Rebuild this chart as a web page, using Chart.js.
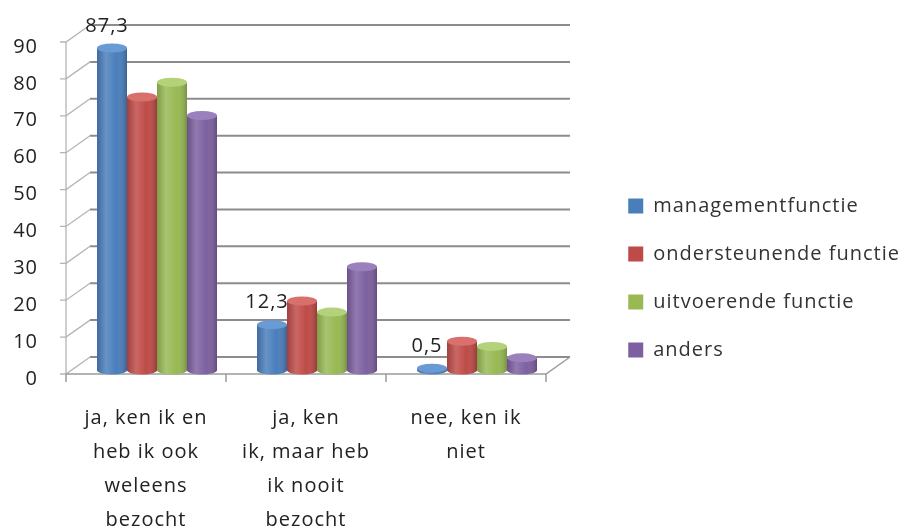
<!DOCTYPE html>
<html>
<head>
<meta charset="utf-8">
<script src="https://cdn.jsdelivr.net/npm/chart.js@4.4.0/dist/chart.umd.min.js"></script>
<style>
  html, body { margin: 0; padding: 0; background: #fff; }
  #c { display: block; }
</style>
</head>
<body>
<canvas id="c" width="910" height="528"></canvas>
<script>
// data
const categories = [
  ["ja, ken ik en", "heb ik ook", "weleens", "bezocht"],
  ["ja, ken", "ik, maar heb", "ik nooit", "bezocht"],
  ["nee, ken ik", "niet"]
];
const seriesNames = ["managementfunctie", "ondersteunende functie", "uitvoerende functie", "anders"];
const managementfunctie = [87.3, 12.3, 0.5];
const ondersteunendeFunctie = [74.0, 18.7, 7.8];
const uitvoerendeFunctie = [78.0, 15.7, 6.4];
const anders = [69.0, 28.0, 3.3];
const yTicks = [0, 10, 20, 30, 40, 50, 60, 70, 80, 90];
const colors = ["#4A7EBB", "#BE4B48", "#98B954", "#7D60A0"];
const tops = ["#6A9AD4", "#D8706C", "#B3D27A", "#9A80BC"];

// 3D-ish offsets: front frame and back wall relative to the bar plane
const FRONT = { dx: -11, dy: 4 };
const BACK = { dx: 13, dy: -13 };

Chart.defaults.font.family = "'Open Sans', sans-serif";
Chart.defaults.font.size = 20;
Chart.defaults.color = "#222";

function noPad(s) {
  s.paddingTop = 0; s.paddingBottom = 0; s.paddingLeft = 0; s.paddingRight = 0;
}

const frame = {
  id: "frame",
  beforeLayout(chart) { chart.ctx.letterSpacing = "1px"; },
  // let the category labels run to the bottom edge without clipping
  afterLayout(chart) { chart.scales.x.bottom = chart.height; },
  beforeDraw(chart) { chart.ctx.letterSpacing = "1px"; },
  beforeDatasetsDraw(chart) {
    const { ctx, chartArea: ca } = chart;
    const ys = chart.scales.y, xs = chart.scales.x;
    const fx = ca.left + FRONT.dx, fr = ca.right + FRONT.dx;
    const bx = ca.left + BACK.dx, br = ca.right + BACK.dx;
    ctx.save();
    // back wall gridlines
    ctx.strokeStyle = "#8c8c8c";
    ctx.lineWidth = 2;
    yTicks.forEach(v => {
      const y = ys.getPixelForValue(v) + BACK.dy;
      ctx.beginPath(); ctx.moveTo(bx, y); ctx.lineTo(br, y); ctx.stroke();
    });
    // side wall diagonals + front axis tick marks
    ctx.strokeStyle = "#b4b4b4";
    ctx.lineWidth = 1.3;
    yTicks.forEach(v => {
      const y = ys.getPixelForValue(v);
      ctx.beginPath();
      ctx.moveTo(fx - 6, y + FRONT.dy);
      ctx.lineTo(fx, y + FRONT.dy);
      ctx.lineTo(bx, y + BACK.dy);
      ctx.stroke();
    });
    const y0 = ys.getPixelForValue(0), yMax = ys.getPixelForValue(90);
    ctx.beginPath();
    ctx.moveTo(fx, yMax + FRONT.dy); ctx.lineTo(fx, y0 + FRONT.dy);
    ctx.stroke();
    // floor front edge and right edge
    ctx.strokeStyle = "#9a9a9a";
    ctx.lineWidth = 1.5;
    ctx.beginPath();
    ctx.moveTo(fx, y0 + FRONT.dy); ctx.lineTo(fr, y0 + FRONT.dy); ctx.lineTo(br, y0 + BACK.dy);
    ctx.stroke();
    // category ticks
    const n = categories.length;
    const step = (ca.right - ca.left) / n;
    for (let i = 0; i <= n; i++) {
      const x = (i < n ? xs.getPixelForValue(i) - step / 2 : xs.getPixelForValue(n - 1) + step / 2) + FRONT.dx;
      ctx.beginPath(); ctx.moveTo(x, y0 + FRONT.dy); ctx.lineTo(x, y0 + FRONT.dy + 8); ctx.stroke();
    }
    ctx.restore();
  },
  afterDatasetsDraw(chart) {
    const ctx = chart.ctx;
    ctx.save();
    chart.data.datasets.forEach((ds, di) => {
      const meta = chart.getDatasetMeta(di);
      meta.data.forEach(bar => {
        const { x, y, base, width } = bar.getProps(["x", "y", "base", "width"], true);
        const l = x - width / 2, r = x + width / 2;
        const ry = 4.5;
        // bottom rounding
        ctx.fillStyle = colors[di];
        ctx.beginPath(); ctx.ellipse(x, base, width / 2, ry, 0, 0, Math.PI); ctx.fill();
        // cylinder shading
        const g = ctx.createLinearGradient(l, 0, r, 0);
        g.addColorStop(0, "rgba(0,0,0,0.15)");
        g.addColorStop(0.3, "rgba(255,255,255,0.16)");
        g.addColorStop(0.65, "rgba(255,255,255,0)");
        g.addColorStop(1, "rgba(0,0,0,0.22)");
        ctx.fillStyle = g;
        ctx.beginPath();
        ctx.moveTo(l, y); ctx.lineTo(l, base);
        ctx.ellipse(x, base, width / 2, ry, 0, Math.PI, 0, true);
        ctx.lineTo(r, y); ctx.closePath();
        ctx.fill();
        // top cap
        ctx.fillStyle = tops[di];
        ctx.beginPath(); ctx.ellipse(x, y, width / 2, ry, 0, 0, Math.PI * 2); ctx.fill();
      });
    });
    // data labels for first series
    const meta0 = chart.getDatasetMeta(0);
    ctx.fillStyle = "#222";
    ctx.font = "20px 'Open Sans', sans-serif";
    ctx.textAlign = "center";
    ctx.textBaseline = "middle";
    meta0.data.forEach((bar, i) => {
      const txt = String(managementfunctie[i]).replace(".", ",");
      ctx.fillText(txt, bar.x - 5, bar.y - 22);
    });
    ctx.restore();
  }
};

new Chart(document.getElementById("c"), {
  type: "bar",
  data: {
    labels: categories,
    datasets: [
      { label: seriesNames[0], data: managementfunctie, backgroundColor: colors[0] },
      { label: seriesNames[1], data: ondersteunendeFunctie, backgroundColor: colors[1] },
      { label: seriesNames[2], data: uitvoerendeFunctie, backgroundColor: colors[2] },
      { label: seriesNames[3], data: anders, backgroundColor: colors[3] }
    ]
  },
  options: {
    responsive: false,
    animation: false,
    layout: { padding: { top: 38, left: 0, right: 0, bottom: 10 } },
    datasets: { bar: { categoryPercentage: 0.75, barPercentage: 1, borderWidth: 0 } },
    plugins: {
      legend: {
        position: "right",
        align: "center",
        maxWidth: 400,
        labels: { boxWidth: 15, boxHeight: 15, padding: 28, color: "#333" }
      },
      tooltip: { enabled: false }
    },
    scales: {
      x: {
        grid: { display: false, drawTicks: false },
        border: { display: false },
        ticks: { padding: 31, labelOffset: -11, maxRotation: 0, autoSkip: false, color: "#222",
                 font: { size: 20, lineHeight: 1.7 } },
        afterFit(s) { s.height = 148; noPad(s); }
      },
      y: {
        min: 0, max: 90,
        grid: { display: false, drawTicks: false },
        border: { display: false },
        ticks: { stepSize: 10, padding: 39, labelOffset: 9, color: "#222" },
        afterFit(s) { s.width = 77; noPad(s); }
      },
      y2: {
        position: "right",
        min: 0, max: 90,
        grid: { display: false, drawTicks: false },
        border: { display: false },
        ticks: { display: false },
        afterFit(s) {
          const lg = s.chart.legend;
          s.width = Math.max(0, s.chart.width - (lg ? lg.width : 0) - 557);
          noPad(s);
        }
      }
    }
  },
  plugins: [frame]
});
</script>
</body>
</html>
